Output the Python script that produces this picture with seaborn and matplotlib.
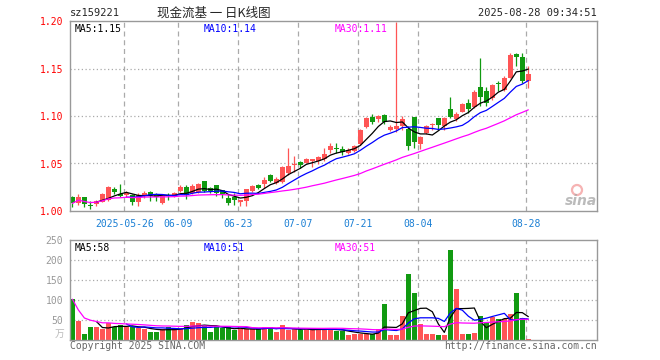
import matplotlib
matplotlib.use('Agg')
import matplotlib.pyplot as plt
from matplotlib.patches import Ellipse
import seaborn as sns
import numpy as np
import pandas as pd

# daily candles, 2025-05-13 .. 2025-08-28
opens = [1.015, 1.008, 1.015, 1.006, 1.007, 1.010, 1.012, 1.023, 1.018, 1.017,
         1.017, 1.009, 1.017, 1.020, 1.0165, 1.008, 1.017, 1.016, 1.0214, 1.0256,
         1.0186, 1.020, 1.032, 1.024, 1.027, 1.022, 1.014, 1.015, 1.010, 1.011,
         1.021, 1.0277, 1.028, 1.0379, 1.029, 1.031, 1.0397, 1.048, 1.052, 1.0508,
         1.053, 1.053, 1.0547, 1.064, 1.0667, 1.0656, 1.0614, 1.063, 1.0705, 1.088,
         1.0986, 1.0972, 1.1007, 1.0855, 1.086, 1.0895, 1.086, 1.0986, 1.070, 1.0824,
         1.0905, 1.0982, 1.0895, 1.107, 1.0968, 1.1045, 1.114, 1.109, 1.131, 1.1263,
         1.1186, 1.1340, 1.1274, 1.1397, 1.165, 1.1618, 1.1372]
closes = [1.008, 1.015, 1.007, 1.0055, 1.011, 1.018, 1.025, 1.020, 1.016, 1.019,
          1.010, 1.017, 1.019, 1.0165, 1.015, 1.016, 1.016, 1.0185, 1.0256, 1.017,
          1.026, 1.028, 1.021, 1.021, 1.019, 1.018, 1.008, 1.0116, 1.0116, 1.023,
          1.0266, 1.0245, 1.0326, 1.0316, 1.034, 1.046, 1.0474, 1.049, 1.0484, 1.0547,
          1.0547, 1.0565, 1.060, 1.068, 1.0657, 1.0618, 1.0642, 1.068, 1.0853, 1.0979,
          1.0937, 1.100, 1.0937, 1.0887, 1.0895, 1.0968, 1.0684, 1.073, 1.078, 1.0895,
          1.091, 1.0905, 1.0982, 1.0986, 1.1018, 1.1126, 1.107, 1.1256, 1.1203, 1.1134,
          1.1326, 1.1335, 1.1403, 1.1642, 1.1618, 1.1368, 1.1439]
highs = [1.016, 1.018, 1.015, 1.010, 1.012, 1.019, 1.026, 1.025, 1.028, 1.021,
         1.018, 1.019, 1.021, 1.021, 1.019, 1.018, 1.019, 1.020, 1.027, 1.027,
         1.028, 1.029, 1.032, 1.025, 1.027, 1.0225, 1.018, 1.019, 1.012, 1.023,
         1.027, 1.0288, 1.036, 1.039, 1.036, 1.047, 1.066, 1.058, 1.053, 1.056,
         1.055, 1.058, 1.066, 1.072, 1.0716, 1.068, 1.066, 1.069, 1.0863, 1.0986,
         1.1021, 1.101, 1.102, 1.090, 1.199, 1.100, 1.0895, 1.0993, 1.079, 1.0905,
         1.093, 1.0982, 1.099, 1.120, 1.104, 1.114, 1.118, 1.127, 1.161, 1.1305,
         1.134, 1.137, 1.142, 1.166, 1.1667, 1.166, 1.1526]
lows = [1.004, 1.006, 1.004, 1.002, 1.005, 1.009, 1.011, 1.018, 1.015, 1.015,
        1.006, 1.005, 1.014, 1.011, 1.011, 1.007, 1.012, 1.015, 1.020, 1.013,
        1.018, 1.019, 1.020, 1.019, 1.016, 1.014, 1.006, 1.006, 1.005, 1.005,
        1.020, 1.0235, 1.024, 1.0305, 1.028, 1.029, 1.038, 1.041, 1.045, 1.050,
        1.0466, 1.049, 1.053, 1.061, 1.061, 1.059, 1.060, 1.062, 1.0695, 1.087,
        1.092, 1.094, 1.092, 1.0842, 1.083, 1.0853, 1.064, 1.0666, 1.065, 1.081,
        1.085, 1.0853, 1.085, 1.098, 1.095, 1.104, 1.103, 1.108, 1.1105, 1.1105,
        1.117, 1.1265, 1.1265, 1.1397, 1.1526, 1.1344, 1.129]
volumes = [102, 48, 15, 33, 33, 27, 42, 32, 37, 32,
           33, 31, 27, 21, 21, 27, 33, 27, 27, 37,
           45, 42, 35, 21, 35, 29, 32, 24, 27, 27,
           27, 30, 33, 32, 21, 37, 24, 27, 24, 27,
           27, 27, 27, 27, 22.5, 23, 12.5, 15, 15, 15,
           15, 27, 90, 12.5, 12.5, 60, 165, 118, 40, 15,
           15, 12.5, 12.5, 225, 127.5, 15, 15, 17.5, 60, 46,
           57, 52, 52, 65, 118, 55, 2]

date_ticks = [9, 18, 28, 38, 48, 58, 76]
date_labels = ['2025-05-26', '06-09', '06-23', '07-07', '07-21', '08-04', '08-28']
price_ticks = [1.00, 1.05, 1.10, 1.15, 1.20]
vol_ticks = [50, 100, 150, 200, 250]
price_ma_text = ['MA5:1.15', 'MA10:1.14', 'MA30:1.11']
vol_ma_text = ['MA5:58', 'MA10:51', 'MA30:51']

RED = '#ff5555'
GREEN = '#119a11'
MA_COLORS = ['black', '#0000ff', '#ff00ff']
GRID = '#aaaaaa'

sns.set_style('white')
plt.rcParams['font.family'] = ['DejaVu Sans Mono', 'Noto Sans CJK SC']

df = pd.DataFrame({'open': opens, 'close': closes, 'high': highs,
                   'low': lows, 'vol': volumes})
df['idx'] = np.arange(len(df))
df['ma5'] = df['close'].rolling(5).mean()
df['ma10'] = df['close'].rolling(10).mean()
df['ma30'] = df['close'].rolling(30, min_periods=1).mean()
df['vma5'] = df['vol'].rolling(5).mean()
df['vma10'] = df['vol'].rolling(10).mean()
df['vma30'] = df['vol'].rolling(30, min_periods=1).mean()
colors = np.where(df['close'] >= df['open'], RED, GREEN)

W, H = 660, 360
fig = plt.figure(figsize=(6.6, 3.6), dpi=100)
ax1 = fig.add_axes([70 / W, (H - 211) / H, 527 / W, 190 / H])
ax2 = fig.add_axes([70 / W, (H - 340) / H, 527 / W, 100 / H])

# candles
body_lo = np.minimum(df['open'], df['close'])
body_h = np.maximum((df['close'] - df['open']).abs(), 0.0011)
ax1.vlines(df['idx'], df['low'], df['high'], colors=colors, lw=0.9, zorder=2)
ax1.bar(df['idx'], body_h, bottom=body_lo, width=0.78, color=colors,
        linewidth=0, zorder=2)

# volume bars
ax2.bar(df['idx'], df['vol'], width=0.82, color=colors, linewidth=0, zorder=2)

for col, c in zip(['ma5', 'ma10', 'ma30'], MA_COLORS):
    sns.lineplot(data=df, x='idx', y=col, ax=ax1, color=c, lw=0.9,
                 estimator=None, zorder=3)
for col, c in zip(['vma5', 'vma10', 'vma30'], MA_COLORS):
    sns.lineplot(data=df, x='idx', y=col, ax=ax2, color=c, lw=0.9,
                 estimator=None, zorder=3)

for ax in (ax1, ax2):
    ax.set_xlim(-0.4, 87.45)
    ax.set_xlabel('')
    ax.set_ylabel('')
    for s in ax.spines.values():
        s.set_color('#999999')
        s.set_linewidth(1)
    for t in date_ticks:
        ax.axvline(t - 0.35, color=GRID, ls=(0, (4, 3)), lw=0.9, zorder=1)
    ax.tick_params(length=0, labelsize=7)

ax1.set_ylim(1.0, 1.2)
for p in price_ticks[1:-1]:
    ax1.axhline(p, color=GRID, ls=(0, (1, 2)), lw=0.9, zorder=1)
ax1.set_yticks(price_ticks)
ax1.set_yticklabels(['%.2f' % p for p in price_ticks], color='#ff0000')
ax1.set_xticks([t - 0.35 for t in date_ticks])
ax1.set_xticklabels(date_labels, color='#1a7fd4')
ax1.tick_params(axis='y', pad=5)
ax1.tick_params(axis='x', pad=6)

ax2.set_ylim(0, 250)
for v in vol_ticks[:-1]:
    ax2.axhline(v, color=GRID, ls=(0, (1, 2)), lw=0.9, zorder=1)
ax2.set_yticks(vol_ticks)
ax2.set_yticklabels([str(v) for v in vol_ticks], color='#999999')
ax2.set_xticks([])
ax2.tick_params(axis='y', pad=5)

xs = [0.0095, 0.254, 0.503]
for x, txt, c in zip(xs, price_ma_text, MA_COLORS):
    ax1.text(x, 0.985, txt, transform=ax1.transAxes, color=c, fontsize=7,
             va='top', ha='left')
for x, txt, c in zip(xs, vol_ma_text, MA_COLORS):
    ax2.text(x, 0.97, txt, transform=ax2.transAxes, color=c, fontsize=7,
             va='top', ha='left')

# header
fig.text(70 / W, 1 - 13 / H, 'sz159221', fontsize=7.5, va='center', ha='left')
fig.text(214 / W, 1 - 13 / H, '现金流基 一 日K线图', fontsize=9, va='center',
         ha='center', family=['Noto Sans CJK SC', 'DejaVu Sans'])
fig.text(597 / W, 1 - 13 / H, '2025-08-28 09:34:51', fontsize=7.5,
         va='center', ha='right')

# footer
fig.text(70 / W, 1 - 346 / H, 'Copyright 2025 SINA.COM', fontsize=7,
         color='#666666', va='center', ha='left')
fig.text(597 / W, 1 - 346 / H, 'http://finance.sina.com.cn', fontsize=7,
         color='#666666', va='center', ha='right')
fig.text(64 / W, 1 - 334 / H, '万', fontsize=7, color='#bbbbbb',
         va='center', ha='right', family=['Noto Sans CJK SC'])

# sina watermark
fig.patches.append(Ellipse((577 / W, 1 - 190 / H), 10 / W, 10 / H,
                           transform=fig.transFigure, fill=False,
                           edgecolor='#f4a0a0', lw=1.6, alpha=0.8))
fig.text(581 / W, 1 - 201 / H, 'sina', fontsize=10, color='#aaaaaa',
         fontweight='bold', style='italic', va='center', ha='center',
         family=['DejaVu Sans'], alpha=0.8)

fig.savefig('out.png', dpi=100)
